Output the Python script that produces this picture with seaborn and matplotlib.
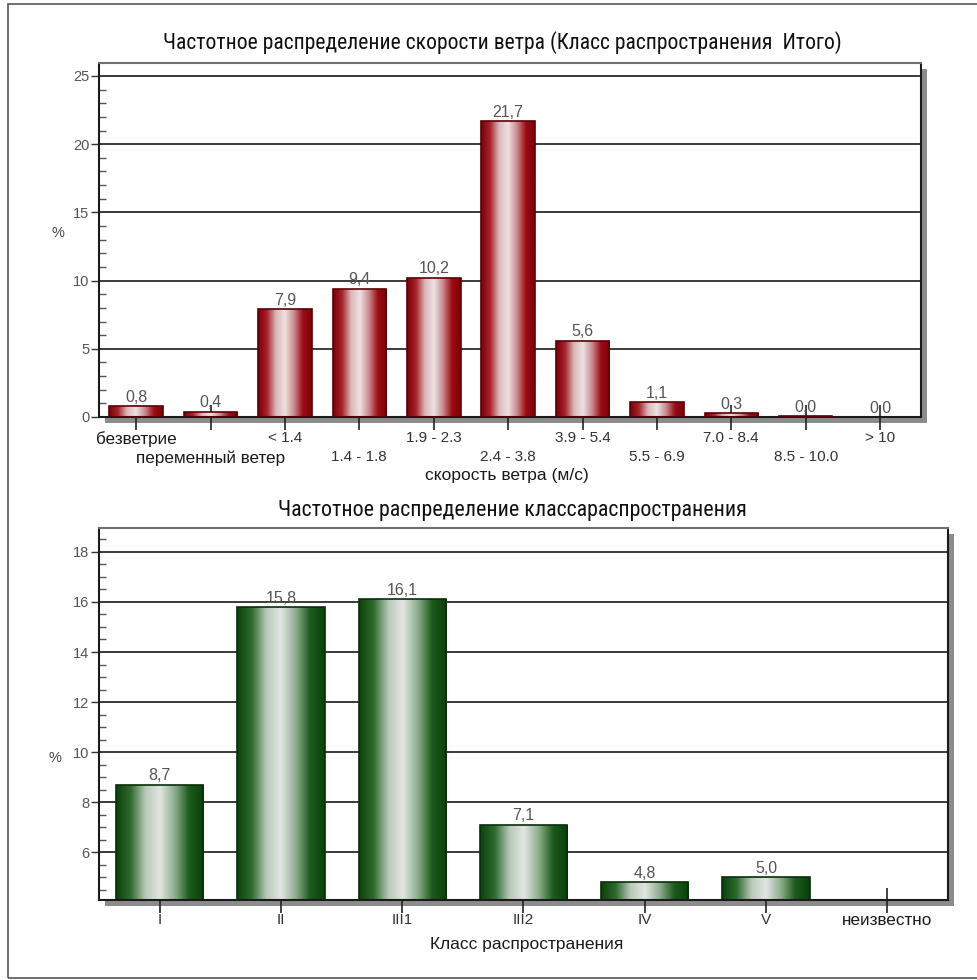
import numpy as np
import pandas as pd
import matplotlib
matplotlib.use("Agg")
import matplotlib.pyplot as plt
import seaborn as sns
from matplotlib import font_manager as fm
from matplotlib.colors import LinearSegmentedColormap
from matplotlib.patches import Rectangle
from matplotlib.ticker import MultipleLocator, FixedLocator, FixedFormatter

# data
wind_labels = ["безветрие", "переменный ветер", "< 1.4", "1.4 - 1.8", "1.9 - 2.3",
               "2.4 - 3.8", "3.9 - 5.4", "5.5 - 6.9", "7.0 - 8.4", "8.5 - 10.0", "> 10"]
wind_pct = [0.8, 0.4, 7.9, 9.4, 10.2, 21.7, 5.6, 1.1, 0.3, 0.04, 0.0]

class_labels = ["I", "II", "III1", "III2", "IV", "V", "неизвестно"]
class_pct = [8.7, 15.8, 16.1, 7.1, 4.8, 5.0, 0.0]

sns.set_theme(style="white")
plt.rcParams["font.family"] = ["Liberation Sans", "DejaVu Sans"]

# titles in the reference use a narrow face; take one if it is installed
title_font = fm.FontProperties(family="Liberation Sans")
names = {f.name for f in fm.fontManager.ttflist}
for nm in ["Liberation Sans Narrow", "Roboto Condensed", "Open Sans Condensed"]:
    if nm in names:
        title_font = fm.FontProperties(family=nm)
        break
else:
    cond = [f for f in fm.fontManager.ttflist
            if "condensed" in f.fname.lower() and "bold" not in f.fname.lower()
            and "oblique" not in f.fname.lower() and "sans" in f.name.lower()
            and "mono" not in f.name.lower()]
    if cond:
        title_font = fm.FontProperties(fname=cond[0].fname)

red_cm = LinearSegmentedColormap.from_list(
    "red", ["#7a0008", "#a8222a", "#d9b8ba", "#ece2e2", "#c98c90", "#9c0c14", "#7e0008"])
green_cm = LinearSegmentedColormap.from_list(
    "green", ["#0b420b", "#2f6a2f", "#b8c8b8", "#e2e6e2", "#8fae8f", "#1c5a1c", "#0a400a"])

W, H = 978, 980
fig = plt.figure(figsize=(W / 100, H / 100), dpi=100)


def box(left, top, right, bottom):
    return [left / W, 1 - bottom / H, (right - left) / W, (bottom - top) / H]


def shadow(left, top, right, bottom, off=6):
    r = Rectangle(((left + off) / W, 1 - (bottom + off) / H), (right - left) / W,
                  (bottom - top) / H, transform=fig.transFigure,
                  facecolor="#8c8c8c", edgecolor="none", zorder=-1)
    fig.add_artist(r)


def shade(ax, cmap, edge):
    grad = np.linspace(0, 1, 256).reshape(1, -1)
    lo = ax.get_ylim()[0]
    for p in ax.containers[0].patches:
        x, y, w, h = p.get_x(), p.get_y(), p.get_width(), p.get_height()
        if y + h <= lo:
            p.set_visible(False)
            continue
        y0 = max(y, lo)
        im = ax.imshow(grad, extent=[x, x + w, y0, y + h], cmap=cmap,
                       aspect="auto", zorder=2.5, interpolation="bicubic")
        im.set_clip_path(p)
        p.set_facecolor("none")
        p.set_edgecolor(edge)
        p.set_linewidth(1.2)
        p.set_zorder(3)


def style(ax):
    ax.set_axisbelow(True)
    ax.yaxis.grid(True, which="major", color="#2b2b2b", linewidth=1.3)
    ax.xaxis.grid(False)
    for s in ["left", "bottom", "right"]:
        ax.spines[s].set_color("#1a1a1a")
        ax.spines[s].set_linewidth(1.5)
    ax.spines["top"].set_color("#6f6f6f")
    ax.spines["top"].set_linewidth(1.5)
    ax.tick_params(axis="y", which="major", direction="out", length=6, width=1,
                   color="#333", labelcolor="#555", labelsize=10.5, pad=1, left=True)
    ax.tick_params(axis="y", which="minor", direction="in", length=5, width=1,
                   color="#555", left=True)
    ax.tick_params(axis="x", which="both", direction="inout", length=18, width=1.2,
                   color="#222", labelcolor="#333", labelsize=11, pad=2, bottom=True)
    # word labels are drawn a bit larger than the numeric ranges in the reference
    for t in ax.get_xticklabels(which="both"):
        if any("а" <= c.lower() <= "я" for c in t.get_text()):
            t.set_fontsize(12.3)
            t.set_color("#1a1a1a")


def fit_title(x, y, text, target):
    t = fig.text(x, y, text, ha="center", va="center", fontproperties=title_font,
                 fontsize=16, color="#111")
    r = fig.canvas.get_renderer()
    w = t.get_window_extent(r).width
    t.set_fontsize(16 * target / w)
    return t


# top chart: wind speed
shadow(99, 63, 921, 417)
ax1 = fig.add_axes(box(99, 63, 921, 417))
df1 = pd.DataFrame({"cat": wind_labels, "pct": wind_pct})
sns.barplot(data=df1, x="cat", y="pct", color="#8b0000", width=0.72, ax=ax1)
ax1.set_xlim(-0.5, len(wind_labels) - 0.45)
ax1.set_ylim(0, 25.95)
ax1.yaxis.set_major_locator(MultipleLocator(5))
ax1.yaxis.set_minor_locator(MultipleLocator(1))
shade(ax1, red_cm, "#5a0005")
ax1.bar_label(ax1.containers[0], labels=[f"{v:.1f}".replace(".", ",") for v in wind_pct],
              padding=1, color="#555", fontsize=11.5)
# even categories on the upper label row, odd ones (as minor ticks) on the lower row
even = list(range(0, len(wind_labels), 2))
odd = list(range(1, len(wind_labels), 2))
ax1.xaxis.set_major_locator(FixedLocator(even))
ax1.xaxis.set_major_formatter(FixedFormatter([wind_labels[i] for i in even]))
ax1.xaxis.set_minor_locator(FixedLocator(odd))
ax1.xaxis.set_minor_formatter(FixedFormatter([wind_labels[i] for i in odd]))
style(ax1)
ax1.tick_params(axis="x", which="major", pad=1)
ax1.tick_params(axis="x", which="minor", pad=15)
ax1.set_xlabel("скорость ветра (м/с)", fontsize=12.5, color="#1a1a1a")
ax1.xaxis.set_label_coords(0.496, -0.145)
ax1.set_ylabel("%", rotation=0, fontsize=10.5, color="#444")
ax1.yaxis.set_label_coords(-0.05, 0.5)

# bottom chart: stability class
shadow(99, 528, 948, 900)
ax2 = fig.add_axes(box(99, 528, 948, 900))
df2 = pd.DataFrame({"cat": class_labels, "pct": class_pct})
sns.barplot(data=df2, x="cat", y="pct", color="#0b4a0b", width=0.72, ax=ax2)
ax2.set_xlim(-0.5, len(class_labels) - 0.5)
ax2.set_ylim(4.1, 18.95)
ax2.yaxis.set_major_locator(MultipleLocator(2))
ax2.yaxis.set_minor_locator(MultipleLocator(0.5))
shade(ax2, green_cm, "#082e08")
ax2.bar_label(ax2.containers[0],
              labels=[f"{v:.1f}".replace(".", ",") if v > 0 else "" for v in class_pct],
              padding=1, color="#555", fontsize=11.5)
style(ax2)
ax2.tick_params(axis="x", which="minor", bottom=False)
ax2.tick_params(axis="x", which="major", pad=0)
ax2.set_xlabel("Класс распространения", fontsize=12.5, color="#1a1a1a")
ax2.xaxis.set_label_coords(0.504, -0.1)
ax2.set_ylabel("%", rotation=0, fontsize=10.5, color="#444")
ax2.yaxis.set_label_coords(-0.052, 0.363)

fit_title(0.514, 0.957, "Частотное распределение скорости ветра (Класс распространения  Итого)", 680)
fit_title(0.524, 0.479, "Частотное распределение классараспространения", 470)

# outer frame
fig.add_artist(Rectangle((8 / W, 1 - 978 / H), 1.2, (978 - 4) / H, transform=fig.transFigure,
                         facecolor="none", edgecolor="#555", linewidth=1.2, zorder=-2))

fig.savefig("out.png", dpi=100)
